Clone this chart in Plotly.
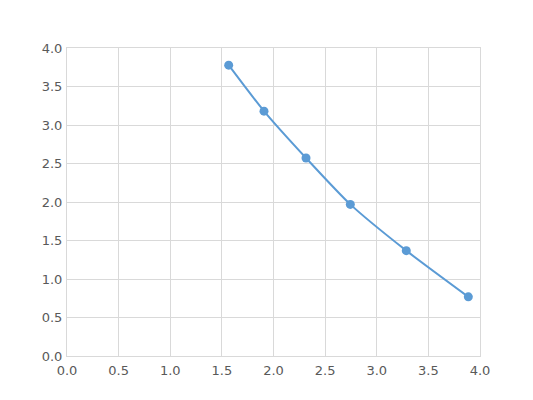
import plotly.graph_objs as go

# standard curve points
x_vals = [1.566, 1.908, 2.315, 2.744, 3.286, 3.887]
y_vals = [3.777, 3.180, 2.571, 1.969, 1.368, 0.768]

tick_vals = [0, 0.5, 1.0, 1.5, 2.0, 2.5, 3.0, 3.5, 4.0]
tick_text = ["0.0", "0.5", "1.0", "1.5", "2.0", "2.5", "3.0", "3.5", "4.0"]

blue = "#5B9BD5"
grid = "#D9D9D9"

fig = go.Figure()
fig.add_trace(go.Scatter(x=x_vals, y=y_vals, mode="lines+markers",
                         line=dict(color=blue, width=2, shape="spline", smoothing=0.6),
                         marker=dict(color=blue, size=9)))

axis = dict(range=[0, 4], tickvals=tick_vals, ticktext=tick_text,
            showgrid=True, gridcolor=grid, gridwidth=1,
            zeroline=False, showline=True, linecolor=grid, mirror=True,
            ticks="", fixedrange=True,
            tickfont=dict(family="DejaVu Sans", size=13, color="#595959"))

fig.update_layout(width=533, height=400,
                  margin=dict(l=59, r=61, t=40, b=52),
                  paper_bgcolor="white", plot_bgcolor="white",
                  showlegend=False,
                  xaxis=dict(axis, ticklabelstandoff=2), yaxis=dict(axis, ticklabelstandoff=1))

fig.write_html("out.html")
